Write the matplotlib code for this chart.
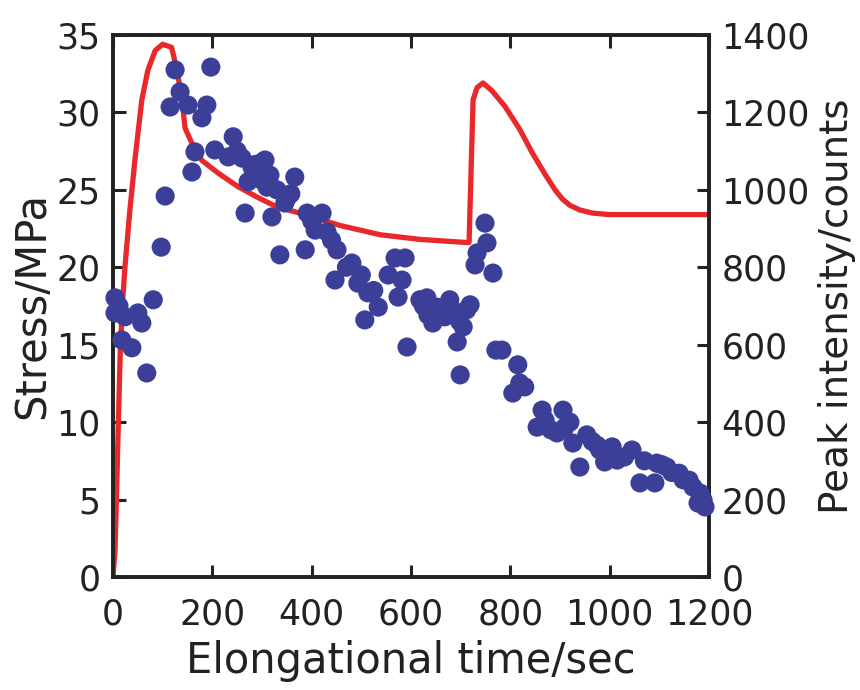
import matplotlib
matplotlib.use("Agg")
import matplotlib.pyplot as plt
import numpy as np

# stress curve (left axis)
stress_time = [0, 4, 7, 11, 15, 20, 24, 34, 44, 58, 70, 85, 100, 118, 129,
               139, 145, 159, 179, 211, 252, 292, 330, 376, 457, 538, 618,
               711, 717, 719, 721, 725, 733, 745, 763, 789, 819, 844, 870,
               890, 905, 920, 940, 965, 1000, 1047, 1121, 1200]
stress_mpa = [0, 1.7, 5.2, 10.3, 15.0, 18.1, 20.0, 23.7, 26.9, 30.8, 32.7,
              34.0, 34.4, 34.2, 32.7, 30.8, 29.0, 28.0, 26.9, 26.1, 25.2,
              24.5, 23.9, 23.5, 22.7, 22.1, 21.8, 21.6, 21.6, 24.0, 26.3,
              30.8, 31.6, 31.9, 31.4, 30.4, 28.9, 27.4, 26.0,
              25.0, 24.4, 24.0, 23.7, 23.5, 23.4, 23.4, 23.4, 23.4]

# peak intensity points (right axis)
peak_time = [4, 4, 24, 50, 81, 58, 18, 38, 68, 12,
             125, 197, 135, 115, 151, 189, 179, 165, 159, 105, 97,
             205, 242, 232, 260, 280, 272, 266, 296, 306, 300, 310, 316,
             250, 285, 330, 358,
             366, 352, 346, 320, 336, 391, 421, 407, 431, 387, 451, 481,
             400, 440, 470, 500, 525,
             447, 493, 513, 534, 507, 568, 554, 582, 574, 592, 588,
             618, 632, 652, 678, 644, 668, 688, 719, 705, 693, 699, 634,
             625, 660, 698, 712,
             749, 753, 733, 729, 765, 783, 771, 815, 819, 829, 805,
             864, 854, 906, 894, 910, 954, 926, 940, 980, 1005, 1045,
             870, 882, 920, 965, 975, 1030, 1070, 1105, 1125, 1140, 1160,
             1015, 990, 1095, 1115, 1061, 1091, 1148, 1168, 1182, 1188,
             1178, 1192]
peak_counts = [721, 682, 672, 682, 716, 656, 612, 592, 527, 700,
               1310, 1317, 1253, 1214, 1219, 1219, 1186, 1098, 1046, 984, 852,
               1103, 1137, 1085, 1082, 1058, 1021, 940, 1069, 1077, 1025, 1007,
               1038, 1100, 1065, 1000, 990,
               1033, 982, 966, 930, 832, 940, 940, 896, 891, 845, 845, 811,
               920, 870, 800, 780, 740,
               767, 759, 734, 697, 664, 824, 780, 767, 723, 594, 824,
               716, 721, 697, 716, 656, 672, 685, 703, 646, 607, 522, 677,
               700, 690, 660, 690,
               914, 863, 837, 806, 785, 586, 586, 548, 501, 491, 475,
               431, 387, 431, 372, 387, 367, 346, 284, 328, 336, 328,
               405, 380, 400, 350, 340, 310, 300, 290, 270, 268, 250,
               302, 297, 294, 284, 243, 243, 251, 232, 217, 199,
               191, 181]

fig = plt.figure(figsize=(8.6, 6.9), dpi=100)
ax = fig.add_axes([0.1314, 0.1638, 0.693, 0.7855])
ax2 = ax.twinx()

ax.plot(stress_time, stress_mpa, color="#e8282a", lw=3.8, solid_joinstyle="round")
ax2.scatter(peak_time, peak_counts, s=190, color="#3b3f97", edgecolors="none",
            clip_on=False, zorder=3)

ax.set_xlim(0, 1200)
ax.set_ylim(0, 35)
ax2.set_ylim(0, 1400)
ax.set_xticks(np.arange(0, 1201, 200))
ax.set_yticks(np.arange(0, 36, 5))
ax2.set_yticks(np.arange(0, 1401, 200))

fs = 25
ax.tick_params(direction="in", length=9, width=2.2, labelsize=fs, pad=9,
               top=True, right=False, colors="#222222")
ax.tick_params(axis="x", pad=15)
ax2.tick_params(direction="in", length=9, width=2.2, labelsize=fs, pad=9,
                colors="#222222")

for a in (ax, ax2):
    for sp in a.spines.values():
        sp.set_linewidth(2.6)
        sp.set_color("#222222")

ax.set_xlabel("Elongational time/sec", fontsize=30, labelpad=6, color="#222222")
ax.set_ylabel("Stress/MPa", fontsize=30, labelpad=2, color="#222222")
ax2.set_ylabel("Peak intensity/counts", fontsize=28, labelpad=6, color="#222222")

fig.savefig("out.png", dpi=100)
